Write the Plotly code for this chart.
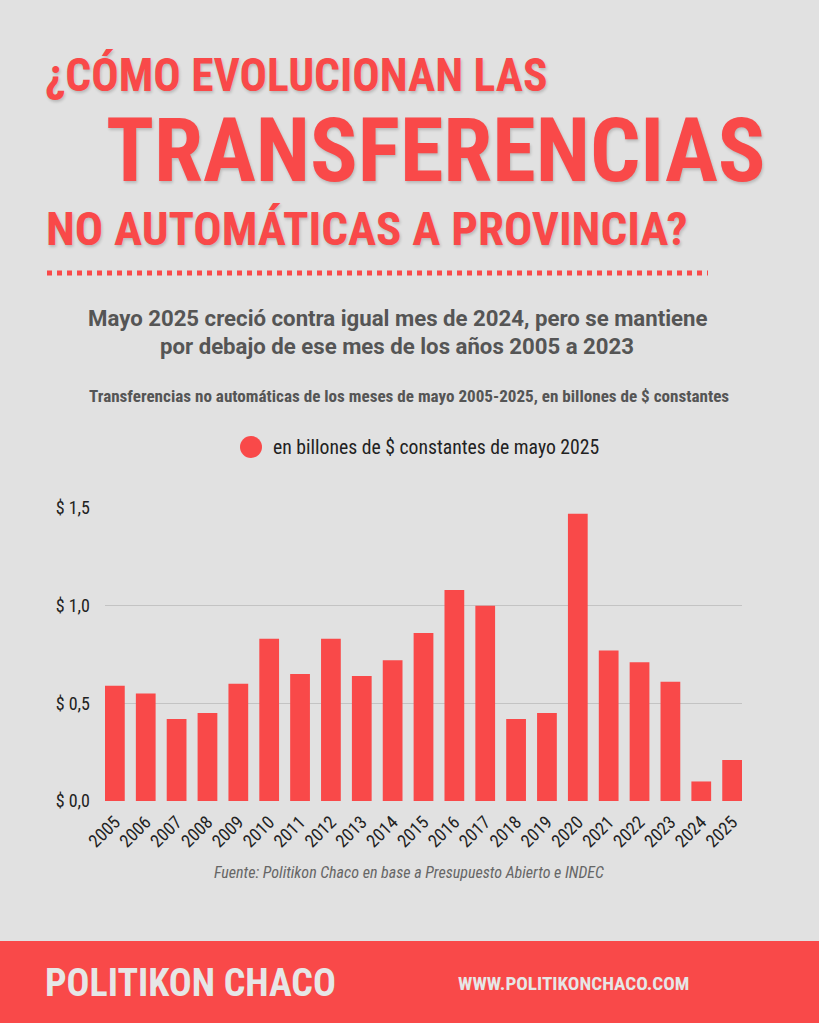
import plotly.graph_objects as go

# ---- data ----
years = [str(y) for y in range(2005, 2026)]
values = [0.59, 0.55, 0.42, 0.45, 0.60, 0.83, 0.65, 0.83, 0.64, 0.72, 0.86,
          1.08, 1.00, 0.42, 0.45, 1.47, 0.77, 0.71, 0.61, 0.10, 0.21]
ytick_vals = [0.0, 0.5, 1.0, 1.5]
ytick_text = ["$ 0,0", "$ 0,5", "$ 1,0", "$ 1,5"]

RED = "#F94949"
BG = "#E1E1E1"
COND = "Roboto Condensed, Roboto, sans-serif"

W, H = 819, 1023
L, R, T, B = 105, 742, 508, 801  # plot area pixels


def px(x):
    return (x - L) / (R - L)


def py(y):
    return (B - y) / (B - T)


fig = go.Figure()
fig.add_trace(go.Bar(x=years, y=values, marker_color=RED, marker_line_width=0,
                     showlegend=False, hoverinfo="x+y"))

shadow = "1px 2px 3px rgba(0,0,0,0.18)"
ann = []


def text(x, y, s, size, color, family=COND, xanchor="left", bold=False, italic=False, sh="none"):
    if bold:
        s = "<b>" + s + "</b>"
    if italic:
        s = "<i>" + s + "</i>"
    ann.append(dict(x=px(x), y=py(y), xref="paper", yref="paper", text=s, showarrow=False,
                    xanchor=xanchor, yanchor="middle",
                    font=dict(size=size, color=color, family=family, shadow=sh)))


# title
text(43, 76, "¿CÓMO EVOLUCIONAN LAS", 45.5, RED, bold=True, sh=shadow)
text(104, 151, "TRANSFERENCIAS", 88.5, RED, bold=True, sh=shadow)
text(44, 228, "NO AUTOMÁTICAS A PROVINCIA?", 47, RED, bold=True, sh=shadow)

# subtitle
text(397, 318, "Mayo 2025 creció contra igual mes de 2024, pero se mantiene", 22.2, "#555555",
     family="Roboto, sans-serif", xanchor="center", bold=True)
text(397, 346, "por debajo de ese mes de los años 2005 a 2023", 22.2, "#555555",
     family="Roboto, sans-serif", xanchor="center", bold=True)
text(409, 396, "Transferencias no automáticas de los meses de mayo 2005-2025, en billones de $ constantes",
     17.1, "#555555", xanchor="center", bold=True)

# legend
text(271, 447, "en billones de $ constantes de mayo 2025", 19.7, "#222222")

# source
text(409, 872, "Fuente: Politikon Chaco en base a Presupuesto Abierto e INDEC", 16, "#666666",
     xanchor="center", italic=True)

# footer
text(43, 983, "POLITIKON CHACO", 38, "#E6E6E6", bold=True)
text(456, 983, "WWW.POLITIKONCHACO.COM", 19.2, "#E6E6E6", bold=True)

shapes = [
    dict(type="rect", xref="paper", yref="paper", x0=px(0), x1=px(W), y0=py(941), y1=py(H + 5),
         fillcolor=RED, line_width=0, layer="below"),
    dict(type="line", xref="paper", yref="paper", x0=px(47), x1=px(708), y0=py(273), y1=py(273),
         line=dict(color=RED, width=5, dash="dot")),
    dict(type="circle", xref="paper", yref="paper", x0=px(240), x1=px(262), y0=py(436), y1=py(458),
         fillcolor=RED, line_width=0),
]

fig.update_layout(
    width=W, height=H,
    margin=dict(l=L, r=W - R, t=T, b=H - B, pad=0),
    paper_bgcolor=BG, plot_bgcolor=BG,
    bargap=0.36,
    annotations=ann, shapes=shapes,
    showlegend=False,
    xaxis=dict(type="category", range=[-0.32, 20.32], tickangle=-45, showgrid=False,
               tickfont=dict(family=COND, size=18, color="#222222"), ticks="", showline=False,
               zeroline=False, fixedrange=True, ticklabelstandoff=6),
    yaxis=dict(range=[0, 1.5], tickvals=ytick_vals, ticktext=ytick_text,
               showgrid=True, gridcolor="#C3C3C3", gridwidth=1, zeroline=False,
               tickfont=dict(family=COND, size=18, color="#222222"), ticks="",
               ticklabelstandoff=14, fixedrange=True),
)

fig.write_html("out.html", config={"displayModeBar": False},
               post_script="document.body.style.margin='0px';")
